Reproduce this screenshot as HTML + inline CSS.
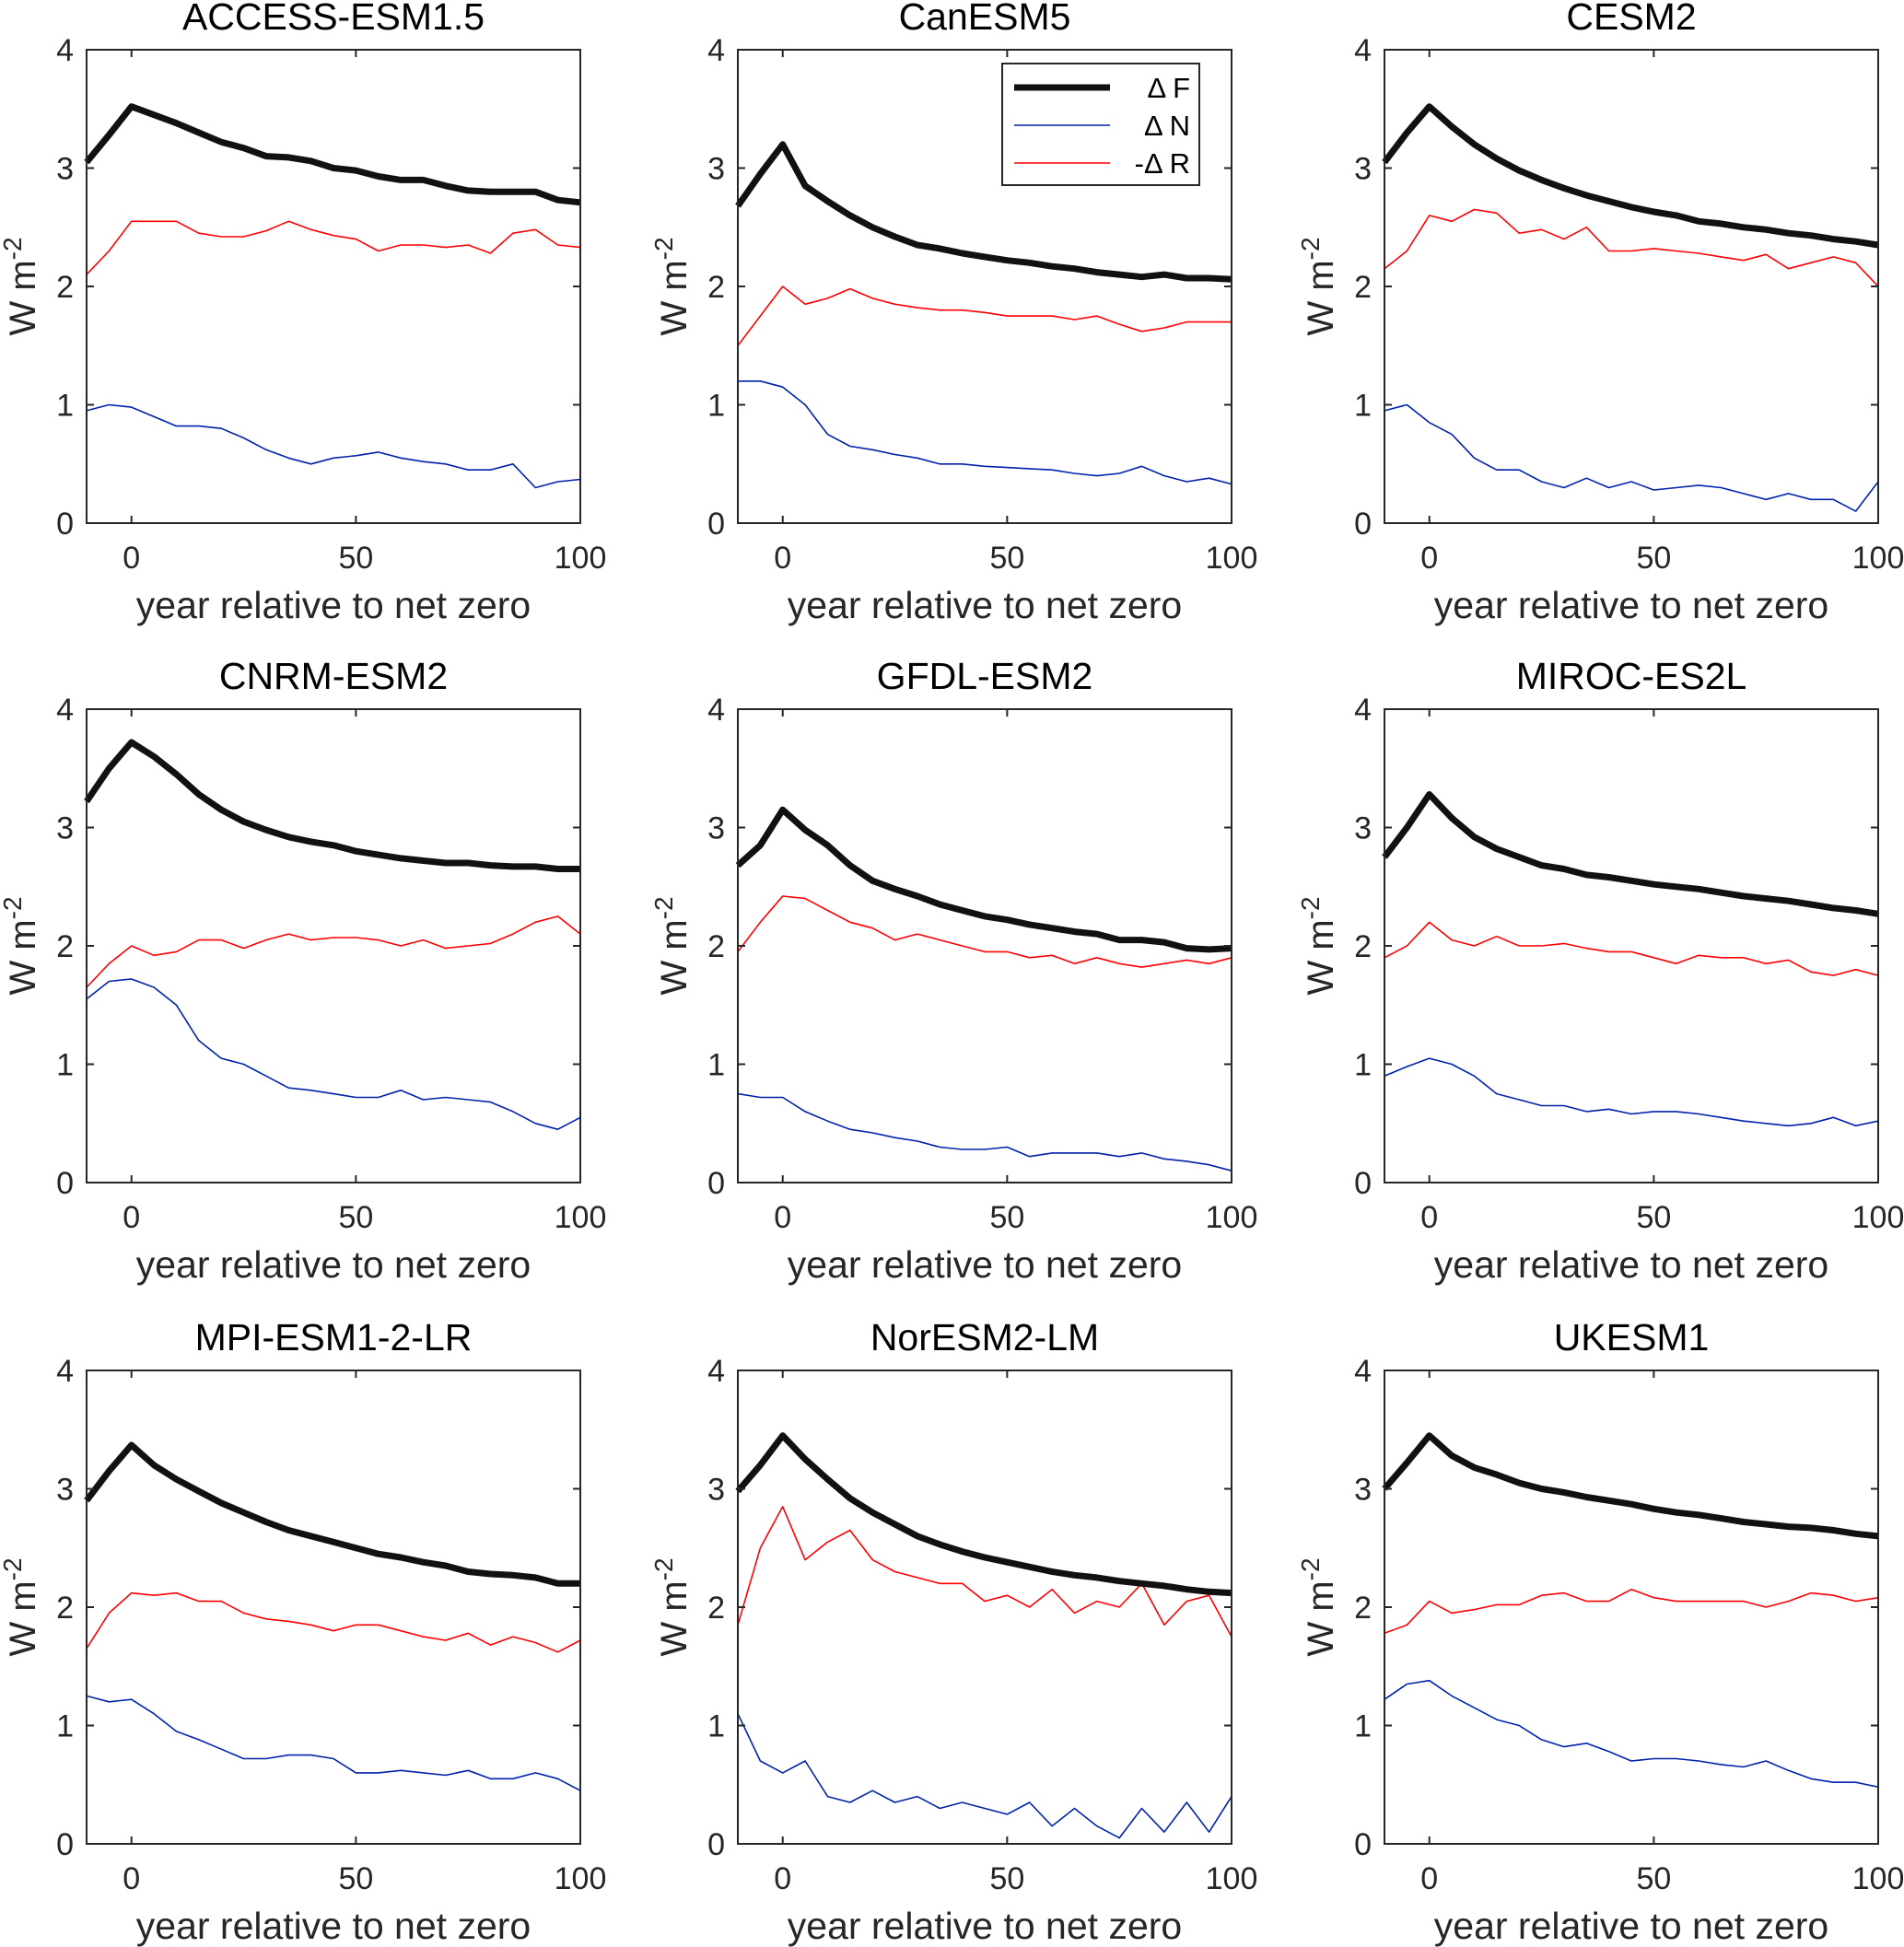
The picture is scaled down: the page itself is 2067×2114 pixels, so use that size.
<!DOCTYPE html>
<html><head><meta charset="utf-8"><style>
html,body{margin:0;padding:0;background:#fff;}
svg{display:block;font-family:"Liberation Sans",Arial,sans-serif;}
</style></head><body>
<svg id="chart" width="2067" height="2114" viewBox="0 0 2067 2114" xmlns="http://www.w3.org/2000/svg"></svg>
<script>
const years = [-10,-5,0,5,10,15,20,25,30,35,40,45,50,55,60,65,70,75,80,85,90,95,100];
const xTicks = [0,50,100];
const yTicks = [0,1,2,3,4];
const modelNames = ["ACCESS-ESM1.5","CanESM5","CESM2","CNRM-ESM2","GFDL-ESM2","MIROC-ES2L","MPI-ESM1-2-LR","NorESM2-LM","UKESM1"];
const forcingF = [
 [3.05,3.28,3.52,3.45,3.38,3.3,3.22,3.17,3.1,3.09,3.06,3.0,2.98,2.93,2.9,2.9,2.85,2.81,2.8,2.8,2.8,2.73,2.71],
 [2.68,2.95,3.2,2.85,2.72,2.6,2.5,2.42,2.35,2.32,2.28,2.25,2.22,2.2,2.17,2.15,2.12,2.1,2.08,2.1,2.07,2.07,2.06],
 [3.05,3.3,3.52,3.35,3.2,3.08,2.98,2.9,2.83,2.77,2.72,2.67,2.63,2.6,2.55,2.53,2.5,2.48,2.45,2.43,2.4,2.38,2.35],
 [3.22,3.5,3.72,3.6,3.45,3.28,3.15,3.05,2.98,2.92,2.88,2.85,2.8,2.77,2.74,2.72,2.7,2.7,2.68,2.67,2.67,2.65,2.65],
 [2.68,2.85,3.15,2.98,2.85,2.68,2.55,2.48,2.42,2.35,2.3,2.25,2.22,2.18,2.15,2.12,2.1,2.05,2.05,2.03,1.98,1.97,1.98],
 [2.75,3.0,3.28,3.08,2.92,2.82,2.75,2.68,2.65,2.6,2.58,2.55,2.52,2.5,2.48,2.45,2.42,2.4,2.38,2.35,2.32,2.3,2.27],
 [2.9,3.15,3.37,3.2,3.08,2.98,2.88,2.8,2.72,2.65,2.6,2.55,2.5,2.45,2.42,2.38,2.35,2.3,2.28,2.27,2.25,2.2,2.2],
 [2.98,3.2,3.45,3.25,3.08,2.92,2.8,2.7,2.6,2.53,2.47,2.42,2.38,2.34,2.3,2.27,2.25,2.22,2.2,2.18,2.15,2.13,2.12],
 [3.0,3.22,3.45,3.28,3.18,3.12,3.05,3.0,2.97,2.93,2.9,2.87,2.83,2.8,2.78,2.75,2.72,2.7,2.68,2.67,2.65,2.62,2.6]
];
const responseR = [
 [2.1,2.3,2.55,2.55,2.55,2.45,2.42,2.42,2.47,2.55,2.48,2.43,2.4,2.3,2.35,2.35,2.33,2.35,2.28,2.45,2.48,2.35,2.33],
 [1.5,1.75,2.0,1.85,1.9,1.98,1.9,1.85,1.82,1.8,1.8,1.78,1.75,1.75,1.75,1.72,1.75,1.68,1.62,1.65,1.7,1.7,1.7],
 [2.15,2.3,2.6,2.55,2.65,2.62,2.45,2.48,2.4,2.5,2.3,2.3,2.32,2.3,2.28,2.25,2.22,2.27,2.15,2.2,2.25,2.2,2.0],
 [1.65,1.85,2.0,1.92,1.95,2.05,2.05,1.98,2.05,2.1,2.05,2.07,2.07,2.05,2.0,2.05,1.98,2.0,2.02,2.1,2.2,2.25,2.1],
 [1.95,2.2,2.42,2.4,2.3,2.2,2.15,2.05,2.1,2.05,2.0,1.95,1.95,1.9,1.92,1.85,1.9,1.85,1.82,1.85,1.88,1.85,1.9],
 [1.9,2.0,2.2,2.05,2.0,2.08,2.0,2.0,2.02,1.98,1.95,1.95,1.9,1.85,1.92,1.9,1.9,1.85,1.88,1.78,1.75,1.8,1.75],
 [1.65,1.95,2.12,2.1,2.12,2.05,2.05,1.95,1.9,1.88,1.85,1.8,1.85,1.85,1.8,1.75,1.72,1.78,1.68,1.75,1.7,1.62,1.72],
 [1.85,2.5,2.85,2.4,2.55,2.65,2.4,2.3,2.25,2.2,2.2,2.05,2.1,2.0,2.15,1.95,2.05,2.0,2.2,1.85,2.05,2.1,1.75],
 [1.78,1.85,2.05,1.95,1.98,2.02,2.02,2.1,2.12,2.05,2.05,2.15,2.08,2.05,2.05,2.05,2.05,2.0,2.05,2.12,2.1,2.05,2.08]
];
const imbalanceN = [
 [0.95,1.0,0.98,0.9,0.82,0.82,0.8,0.72,0.62,0.55,0.5,0.55,0.57,0.6,0.55,0.52,0.5,0.45,0.45,0.5,0.3,0.35,0.37],
 [1.2,1.2,1.15,1.0,0.75,0.65,0.62,0.58,0.55,0.5,0.5,0.48,0.47,0.46,0.45,0.42,0.4,0.42,0.48,0.4,0.35,0.38,0.33],
 [0.95,1.0,0.85,0.75,0.55,0.45,0.45,0.35,0.3,0.38,0.3,0.35,0.28,0.3,0.32,0.3,0.25,0.2,0.25,0.2,0.2,0.1,0.35],
 [1.55,1.7,1.72,1.65,1.5,1.2,1.05,1.0,0.9,0.8,0.78,0.75,0.72,0.72,0.78,0.7,0.72,0.7,0.68,0.6,0.5,0.45,0.55],
 [0.75,0.72,0.72,0.6,0.52,0.45,0.42,0.38,0.35,0.3,0.28,0.28,0.3,0.22,0.25,0.25,0.25,0.22,0.25,0.2,0.18,0.15,0.1],
 [0.9,0.98,1.05,1.0,0.9,0.75,0.7,0.65,0.65,0.6,0.62,0.58,0.6,0.6,0.58,0.55,0.52,0.5,0.48,0.5,0.55,0.48,0.52],
 [1.25,1.2,1.22,1.1,0.95,0.88,0.8,0.72,0.72,0.75,0.75,0.72,0.6,0.6,0.62,0.6,0.58,0.62,0.55,0.55,0.6,0.55,0.45],
 [1.1,0.7,0.6,0.7,0.4,0.35,0.45,0.35,0.4,0.3,0.35,0.3,0.25,0.35,0.15,0.3,0.15,0.05,0.3,0.1,0.35,0.1,0.4],
 [1.22,1.35,1.38,1.25,1.15,1.05,1.0,0.88,0.82,0.85,0.78,0.7,0.72,0.72,0.7,0.67,0.65,0.7,0.62,0.55,0.52,0.52,0.48]
];
const legendLabels = ["\u0394 F","\u0394 N","-\u0394 R"];

const NS = "http://www.w3.org/2000/svg";
const svg = document.getElementById('chart');
const colLeft = [94, 801, 1503];
const rowTop = [54, 770, 1488];
const PW = 536, PH = 514;
const xMin = -10, xMax = 100, yMin = 0, yMax = 4;
function mk(tag, attrs, parent){
  const e = document.createElementNS(NS, tag);
  for (const k in attrs) e.setAttribute(k, attrs[k]);
  (parent||svg).appendChild(e);
  return e;
}
modelNames.forEach((name, i) => {
  const L = colLeft[i%3], T = rowTop[Math.floor(i/3)];
  const sx = v => L + (v - xMin) / (xMax - xMin) * PW;
  const sy = v => T + PH - (v - yMin) / (yMax - yMin) * PH;
  const g = mk('g', {});
  
  
  const title = mk('text', {x: L + PW/2, y: T - 22, 'text-anchor':'middle', 'font-size': 41, fill:'#000'}, g);
  title.textContent = name;
  
  
  const series = [[responseR[i], '#ff0000', 1.6, 'series-minus-delta-r'], [imbalanceN[i], '#0022aa', 1.6, 'series-delta-n'], [forcingF[i], '#111111', 7, 'series-delta-f']];
  series.forEach(s => {
    const pts = years.map((y, k) => sx(y).toFixed(1) + ',' + sy(s[0][k]).toFixed(1)).join(' ');
    const pl = mk('polyline', {points: pts, fill:'none', stroke: s[1], 'stroke-width': s[2], 'stroke-linejoin':'round'}, g);
    
    
  });
  const fr = mk('rect', {x: L, y: T, width: PW, height: PH, fill:'none', stroke:'#262626', 'stroke-width': 2}, g);
  
  
  xTicks.forEach(t => {
    const x = sx(t);
    mk('line', {x1:x, x2:x, y1:T+PH, y2:T+PH-8, stroke:'#262626', 'stroke-width':2}, g);
    mk('line', {x1:x, x2:x, y1:T, y2:T+8, stroke:'#262626', 'stroke-width':2}, g);
    const tl = mk('text', {x:x, y:T+PH+49, 'text-anchor':'middle', 'font-size':34, fill:'#262626'}, g);
    tl.textContent = t;
    
    
  });
  yTicks.forEach(t => {
    const y = sy(t);
    mk('line', {x1:L, x2:L+8, y1:y, y2:y, stroke:'#262626', 'stroke-width':2}, g);
    mk('line', {x1:L+PW, x2:L+PW-8, y1:y, y2:y, stroke:'#262626', 'stroke-width':2}, g);
    const tl = mk('text', {x:L-14, y:y+12, 'text-anchor':'end', 'font-size':34, fill:'#262626'}, g);
    tl.textContent = t;
    
    
  });
  const xl = mk('text', {x:L+PW/2, y:T+PH+103, 'text-anchor':'middle', 'font-size':41, fill:'#262626'}, g);
  xl.textContent = 'year relative to net zero';
  
  
  const cx = L - 56, cy = T + PH/2;
  const yl = mk('text', {x:cx, y:cy, transform:'rotate(-90 '+cx+' '+cy+')', 'text-anchor':'middle', 'font-size':40, fill:'#262626'}, g);
  yl.innerHTML = 'W m<tspan dy="-15" font-size="28">-2</tspan>';
  
  
  if (i === 1) {
    const lg = mk('g', {}, g);
    
    
    mk('rect', {x:1088, y:69, width:214, height:132, fill:'#fff', stroke:'#262626', 'stroke-width':2}, lg);
    const cols = ['#111111', '#0022aa', '#ff0000'];
    const wid = [7, 1.6, 1.6];
    legendLabels.forEach((lab, k) => {
      const y = 95 + k*41;
      const ln = mk('line', {x1:1101, x2:1205, y1:y, y2:y, stroke:cols[k], 'stroke-width':wid[k]}, lg);
      
      
      const tx = mk('text', {x:1292, y:y+11, 'text-anchor':'end', 'font-size':31, fill:'#000'}, lg);
      tx.textContent = lab;
      
      
    });
  }
});
</script>
</body></html>
